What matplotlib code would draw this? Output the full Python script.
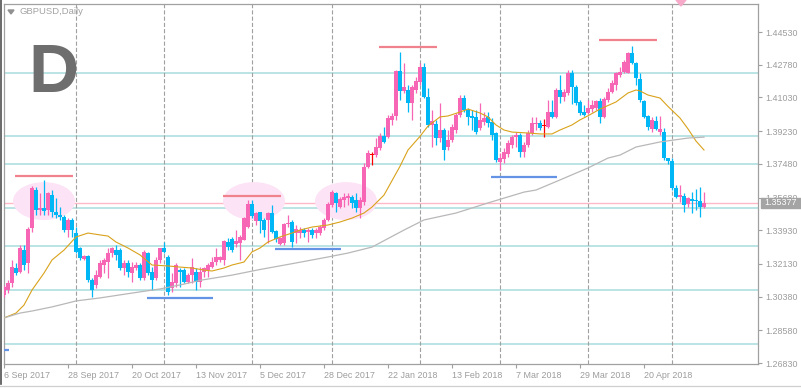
import matplotlib
matplotlib.use("Agg")
import matplotlib.pyplot as plt
from matplotlib.patches import Ellipse, Polygon, Rectangle
from matplotlib.lines import Line2D
import numpy as np

plt.rcParams["lines.scale_dashes"] = False

# GBPUSD daily, 6 Sep 2017 .. 11 May 2018 (bar index = trading day)
opens = [1.3046, 1.3073, 1.3110, 1.3190, 1.3169, 1.3287, 1.3217, 1.3404, 1.3608, 1.3501,
         1.3511, 1.3501, 1.3581, 1.3490, 1.3474, 1.3463, 1.3394, 1.3447, 1.3377, 1.3297,
         1.3238, 1.3254, 1.3126, 1.3099, 1.3142, 1.3206, 1.3222, 1.3270, 1.3287, 1.3287,
         1.3190, 1.3217, 1.3163, 1.3190, 1.3206, 1.3137, 1.3270, 1.3169, 1.3137, 1.3233,
         1.3297, 1.3249, 1.3083, 1.3110, 1.3180, 1.3180, 1.3115, 1.3153, 1.3169, 1.3115,
         1.3169, 1.3180, 1.3196, 1.3222, 1.3233, 1.3233, 1.3329, 1.3345, 1.3319, 1.3324,
         1.3340, 1.3410, 1.3533, 1.3442, 1.3490, 1.3447, 1.3447, 1.3484, 1.3388, 1.3319,
         1.3324, 1.3426, 1.3436, 1.3377, 1.3377, 1.3394, 1.3383, 1.3394, 1.3377, 1.3377,
         1.3404, 1.3447, 1.3527, 1.3591, 1.3517, 1.3554, 1.3565, 1.3570, 1.3554, 1.3511,
         1.3543, 1.3731, 1.3795, 1.3795, 1.3832, 1.3896, 1.3891, 1.3982, 1.4003, 1.4244,
         1.4137, 1.4143, 1.4073, 1.4143, 1.4185, 1.4266, 1.4105, 1.3955, 1.3961, 1.3886,
         1.3929, 1.3838, 1.3875, 1.3929, 1.4009, 1.4100, 1.4036, 1.4003, 1.3998, 1.3939,
         1.3971, 1.3998, 1.3971, 1.3912, 1.3757, 1.3773, 1.3800, 1.3848, 1.3891, 1.3902,
         1.3811, 1.3848, 1.3912, 1.3961, 1.3966, 1.3950, 1.3945, 1.4025, 1.3998, 1.4143,
         1.4105, 1.4126, 1.4233, 1.4159, 1.4078, 1.4025, 1.4020, 1.4041, 1.4046, 1.4084,
         1.3998, 1.4089, 1.4132, 1.4169, 1.4223, 1.4239, 1.4233, 1.4341, 1.4287, 1.4201,
         1.4084, 1.4003, 1.3934, 1.3977, 1.3918, 1.3918, 1.3779, 1.3763, 1.3618, 1.3570,
         1.3575, 1.3533, 1.3559, 1.3554, 1.3549, 1.3517]
highs = [1.3099, 1.3126, 1.3233, 1.3217, 1.3313, 1.3313, 1.3410, 1.3629, 1.3624, 1.3591,
         1.3661, 1.3597, 1.3608, 1.3565, 1.3517, 1.3474, 1.3458, 1.3458, 1.3410, 1.3303,
         1.3260, 1.3262, 1.3137, 1.3180, 1.3233, 1.3244, 1.3297, 1.3303, 1.3313, 1.3297,
         1.3233, 1.3233, 1.3222, 1.3222, 1.3217, 1.3287, 1.3276, 1.3196, 1.3249, 1.3297,
         1.3329, 1.3260, 1.3163, 1.3217, 1.3190, 1.3190, 1.3163, 1.3244, 1.3190, 1.3196,
         1.3196, 1.3217, 1.3249, 1.3297, 1.3254, 1.3340, 1.3351, 1.3356, 1.3394, 1.3367,
         1.3463, 1.3554, 1.3554, 1.3490, 1.3490, 1.3458, 1.3490, 1.3527, 1.3394, 1.3356,
         1.3431, 1.3474, 1.3447, 1.3420, 1.3410, 1.3404, 1.3404, 1.3404, 1.3404, 1.3420,
         1.3458, 1.3543, 1.3608, 1.3597, 1.3570, 1.3591, 1.3591, 1.3581, 1.3591, 1.3570,
         1.3752, 1.3822, 1.3811, 1.3886, 1.3912, 1.3945, 1.4009, 1.4020, 1.4250, 1.4346,
         1.4287, 1.4169, 1.4169, 1.4212, 1.4287, 1.4287, 1.4153, 1.4036, 1.3982, 1.4073,
         1.3939, 1.3929, 1.3961, 1.4020, 1.4116, 1.4116, 1.4046, 1.4036, 1.4036, 1.4073,
         1.4025, 1.4025, 1.3993, 1.3918, 1.3805, 1.3832, 1.3875, 1.3902, 1.3918, 1.3912,
         1.3864, 1.3929, 1.3998, 1.3998, 1.3982, 1.3987, 1.4089, 1.4089, 1.4153, 1.4223,
         1.4148, 1.4250, 1.4250, 1.4169, 1.4089, 1.4062, 1.4089, 1.4089, 1.4089, 1.4100,
         1.4105, 1.4153, 1.4196, 1.4239, 1.4266, 1.4303, 1.4346, 1.4378, 1.4292, 1.4233,
         1.4089, 1.4009, 1.3998, 1.4003, 1.4003, 1.3939, 1.3779, 1.3779, 1.3634, 1.3634,
         1.3591, 1.3570, 1.3597, 1.3613, 1.3624, 1.3597]
lows = [1.3035, 1.3056, 1.3089, 1.3153, 1.3163, 1.3180, 1.3163, 1.3383, 1.3474, 1.3474,
        1.3474, 1.3474, 1.3463, 1.3458, 1.3447, 1.3383, 1.3356, 1.3356, 1.3270, 1.3233,
        1.3233, 1.3115, 1.3035, 1.3083, 1.3137, 1.3163, 1.3137, 1.3249, 1.3233, 1.3180,
        1.3153, 1.3142, 1.3115, 1.3180, 1.3126, 1.3126, 1.3153, 1.3073, 1.3126, 1.3217,
        1.3270, 1.3046, 1.3062, 1.3089, 1.3089, 1.3110, 1.3110, 1.3110, 1.3073, 1.3089,
        1.3142, 1.3142, 1.3190, 1.3206, 1.3222, 1.3206, 1.3287, 1.3276, 1.3303, 1.3233,
        1.3340, 1.3404, 1.3458, 1.3420, 1.3377, 1.3356, 1.3324, 1.3377, 1.3329, 1.3313,
        1.3313, 1.3410, 1.3303, 1.3324, 1.3351, 1.3356, 1.3329, 1.3351, 1.3351, 1.3367,
        1.3394, 1.3442, 1.3517, 1.3490, 1.3511, 1.3517, 1.3527, 1.3511, 1.3490, 1.3458,
        1.3527, 1.3725, 1.3741, 1.3784, 1.3822, 1.3859, 1.3886, 1.3955, 1.3982, 1.4089,
        1.4126, 1.4025, 1.3982, 1.4126, 1.4169, 1.4100, 1.3945, 1.3838, 1.3848, 1.3864,
        1.3768, 1.3822, 1.3864, 1.3912, 1.3998, 1.4025, 1.3955, 1.3929, 1.3907, 1.3929,
        1.3955, 1.3945, 1.3875, 1.3757, 1.3715, 1.3752, 1.3784, 1.3832, 1.3838, 1.3784,
        1.3784, 1.3838, 1.3902, 1.3929, 1.3929, 1.3891, 1.3939, 1.3993, 1.3993, 1.4073,
        1.4084, 1.4116, 1.4068, 1.4062, 1.4009, 1.4003, 1.4014, 1.4025, 1.4036, 1.3966,
        1.3993, 1.4078, 1.4126, 1.4143, 1.4212, 1.4233, 1.4233, 1.4282, 1.4169, 1.4078,
        1.3993, 1.3929, 1.3918, 1.3929, 1.3902, 1.3768, 1.3747, 1.3608, 1.3565, 1.3543,
        1.3490, 1.3517, 1.3484, 1.3501, 1.3463, 1.3511]
closes = [1.3089, 1.3110, 1.3196, 1.3163, 1.3297, 1.3206, 1.3399, 1.3618, 1.3501, 1.3511,
          1.3495, 1.3591, 1.3490, 1.3474, 1.3463, 1.3394, 1.3447, 1.3394, 1.3276, 1.3244,
          1.3254, 1.3126, 1.3073, 1.3153, 1.3217, 1.3233, 1.3270, 1.3297, 1.3260, 1.3190,
          1.3217, 1.3169, 1.3196, 1.3206, 1.3137, 1.3276, 1.3163, 1.3126, 1.3233, 1.3297,
          1.3276, 1.3062, 1.3115, 1.3206, 1.3169, 1.3115, 1.3153, 1.3196, 1.3115, 1.3169,
          1.3190, 1.3206, 1.3222, 1.3249, 1.3249, 1.3335, 1.3303, 1.3287, 1.3335, 1.3356,
          1.3458, 1.3533, 1.3468, 1.3484, 1.3442, 1.3394, 1.3484, 1.3383, 1.3345, 1.3351,
          1.3426, 1.3431, 1.3329, 1.3399, 1.3394, 1.3377, 1.3394, 1.3367, 1.3394, 1.3410,
          1.3447, 1.3533, 1.3597, 1.3538, 1.3559, 1.3570, 1.3575, 1.3538, 1.3511, 1.3554,
          1.3731, 1.3805, 1.3795, 1.3838, 1.3896, 1.3864, 1.3993, 1.4003, 1.4244, 1.4137,
          1.4159, 1.4073, 1.4159, 1.4191, 1.4266, 1.4105, 1.3955, 1.3977, 1.3886, 1.3929,
          1.3822, 1.3875, 1.3945, 1.4009, 1.4100, 1.4036, 1.3998, 1.3993, 1.3918, 1.3982,
          1.3993, 1.3966, 1.3902, 1.3768, 1.3779, 1.3811, 1.3859, 1.3891, 1.3902, 1.3811,
          1.3848, 1.3912, 1.3966, 1.3966, 1.3939, 1.3950, 1.4025, 1.3998, 1.4143, 1.4105,
          1.4132, 1.4233, 1.4159, 1.4073, 1.4020, 1.4009, 1.4046, 1.4062, 1.4084, 1.3998,
          1.4094, 1.4132, 1.4180, 1.4233, 1.4239, 1.4292, 1.4341, 1.4287, 1.4207, 1.4089,
          1.3998, 1.3945, 1.3982, 1.3934, 1.3934, 1.3779, 1.3763, 1.3618, 1.3570, 1.3581,
          1.3527, 1.3565, 1.3549, 1.3549, 1.3517, 1.35377]

# moving averages (bar index, price)
ma_fast_bars = [0, 3, 5, 7, 10, 12, 15, 18, 21, 24, 26, 28, 31, 34, 37, 41, 44, 47, 50, 52,
                55, 57, 60, 62, 64, 66, 69, 72, 74, 77, 81, 84, 87, 90, 92, 95, 99, 101, 104,
                106, 109, 111, 114, 116, 119, 121, 123, 125, 127, 131, 134, 137, 139, 142,
                144, 146, 149, 151, 153, 156, 158, 159, 161, 164, 166, 169, 171, 173, 175]
ma_fast_vals = [1.2924, 1.2950, 1.2993, 1.3073, 1.3164, 1.3234, 1.3287, 1.3357, 1.3378,
                1.3368, 1.3362, 1.3330, 1.3298, 1.3261, 1.3207, 1.3202, 1.3196, 1.3191,
                1.3180, 1.3175, 1.3191, 1.3207, 1.3223, 1.3277, 1.3298, 1.3330, 1.3357,
                1.3378, 1.3394, 1.3410, 1.3421, 1.3437, 1.3458, 1.3485, 1.3517, 1.3581,
                1.3735, 1.3822, 1.3895, 1.3950, 1.3999, 1.4004, 1.4025, 1.4041, 1.4020,
                1.3999, 1.3956, 1.3929, 1.3918, 1.3913, 1.3908, 1.3908, 1.3929, 1.3956,
                1.3983, 1.4005, 1.4041, 1.4060, 1.4079, 1.4127, 1.4143, 1.4138, 1.4116,
                1.4100, 1.4055, 1.3993, 1.3935, 1.3870, 1.3822]
ma_slow_bars = [0, 4, 7, 12, 16, 18, 24, 32, 39, 45, 49, 57, 64, 73, 81, 86, 92, 100, 105,
                113, 121, 130, 133, 139, 146, 151, 154, 158, 164, 171, 175]
ma_slow_vals = [1.2924, 1.2950, 1.2961, 1.2983, 1.3004, 1.3015, 1.3031, 1.3057, 1.3079,
                1.3105, 1.3125, 1.3153, 1.3183, 1.3218, 1.3250, 1.3271, 1.3303, 1.3394,
                1.3448, 1.3485, 1.3539, 1.3597, 1.3608, 1.3662, 1.3726, 1.3779, 1.3795,
                1.3838, 1.3865, 1.3886, 1.3891]

# horizontal lines / drawn levels
h_levels = [1.4233, 1.3896, 1.3747, 1.3511, 1.3308, 1.3073, 1.2784]
last_price = 1.35377
resist_levels = [(1.4373, 93.75, 108.25), (1.4410, 148.75, 163.25),
                 (1.3682, 2.75, 17.25), (1.3575, 54.75, 69.25)]
support_levels = [(1.3030, 35.75, 52.25), (1.3292, 67.75, 84.25),
                  (1.3677, 121.75, 138.25), (1.2751, -2.0, 1.25)]
zones = [(10.0, 1.3549), (62.5, 1.3549), (85.5, 1.3549)]

y_ticks = [1.44530, 1.42780, 1.41030, 1.39230, 1.37480, 1.35680, 1.33930,
           1.32130, 1.30380, 1.28580, 1.26830]
x_tick_bars = [0, 16, 32, 48, 64, 80, 96, 112, 128, 144, 160]
x_tick_labels = ["6 Sep 2017", "28 Sep 2017", "20 Oct 2017", "13 Nov 2017", "5 Dec 2017",
                 "28 Dec 2017", "22 Jan 2018", "13 Feb 2018", "7 Mar 2018", "29 Mar 2018",
                 "20 Apr 2018"]
month_bars = [18, 40, 62, 82, 104, 124, 146, 167]

W, H = 801, 388
fig = plt.figure(figsize=(W / 100, H / 100), dpi=100)
ax = fig.add_axes([3.5 / W, 24 / H, 754.5 / W, 360.5 / H])
ax.set_xlim(-0.125, 188.5)
ax.set_ylim(1.26777, 1.46055)

bull, bear, grid_c, txt_c = "#f766b4", "#00b7f5", "#a0a0a0", "#9c9c9c"

for lv in h_levels:
    ax.axhline(lv, color="#a9dddd", lw=1.1, zorder=1)
ax.axhline(last_price, color="#ffb8c8", lw=1.0, zorder=1)
for mb in month_bars:
    ax.axvline(mb, color=grid_c, lw=0.8, ls=(0, (3, 1.5)), zorder=1)

for bx, by in zones:
    ax.add_patch(Ellipse((bx, by), 15.5, 0.0203, facecolor="#fde3f6",
                         edgecolor="none", zorder=1.5))

o = np.array(opens)
h = np.array(highs)
l = np.array(lows)
c = np.array(closes)
x = np.arange(len(o))
cols = np.where(c > o, bull, np.where(c < o, bear, "red"))

ax.vlines(x, l, h, colors=cols, lw=0.9, zorder=3)
body = np.maximum(np.abs(c - o), 0.0004)
ax.bar(x, body, bottom=np.minimum(o, c), width=0.76, color=cols, zorder=3)

ax.plot(ma_fast_bars, ma_fast_vals, color="#d9a21b", lw=0.8, zorder=4)
ax.plot(ma_slow_bars, ma_slow_vals, color="#b8b8b8", lw=0.9, zorder=4)

for lv, a, b in resist_levels:
    ax.hlines(lv, a, b, color="#f0828e", lw=1.6, zorder=5)
for lv, a, b in support_levels:
    ax.hlines(lv, a, b, color="#6493e6", lw=1.6, zorder=5)

# axes styling
for s in ax.spines.values():
    s.set_color(grid_c)
    s.set_linewidth(0.9)
ax.yaxis.tick_right()
ax.set_yticks(y_ticks)
ax.set_yticklabels([f"{v:.5f}" for v in y_ticks])
ax.set_xticks(x_tick_bars)
ax.set_xticklabels(x_tick_labels, ha="left")
ax.tick_params(axis="both", colors=grid_c, labelcolor=txt_c, labelsize=6.4,
               length=3, width=0.8, direction="out")
ax.tick_params(axis="y", pad=2)
ax.tick_params(axis="x", pad=2)
for lab in ax.get_xticklabels() + ax.get_yticklabels():
    lab.set_fontfamily("Liberation Sans")
ax.set_facecolor("white")

# window decorations
fig.text(19 / W, 1 - 12 / H, "GBPUSD,Daily", fontsize=6.8, color="#a3a3a3",
         va="center", ha="left", family="Liberation Sans")
fig.add_artist(Polygon([[8 / W, 1 - 10 / H], [14 / W, 1 - 10 / H], [11 / W, 1 - 14 / H]],
                       closed=True, transform=fig.transFigure, color="#909090"))
fig.text(28 / W, 1 - 92 / H, "D", fontsize=50, color="#6e6e6e", weight="bold",
         family="Liberation Sans", ha="left", va="baseline")
fig.add_artist(Polygon([[676 / W, 1.0], [686 / W, 1.0], [681 / W, 1 - 6 / H]],
                       closed=True, transform=fig.transFigure, color="#f6a9c9"))
fig.add_artist(Rectangle((760.5 / W, 1 - 207.5 / H), 40.5 / W, 10 / H,
                         transform=fig.transFigure, color="#a4a4a4"))
fig.text(764 / W, 1 - 202.5 / H, f"{last_price:.5f}", fontsize=6.4, color="white",
         va="center", ha="left", family="Liberation Sans")
fig.add_artist(Line2D([0.7 / W, 0.7 / W], [1 - 384 / H, 1.0], transform=fig.transFigure,
                      color="#505050", lw=1.2))
fig.add_artist(Line2D([0, 1], [1 - 385.5 / H, 1 - 385.5 / H], transform=fig.transFigure,
                      color="#cfcfcf", lw=0.9))

fig.savefig("out.png", dpi=100)
